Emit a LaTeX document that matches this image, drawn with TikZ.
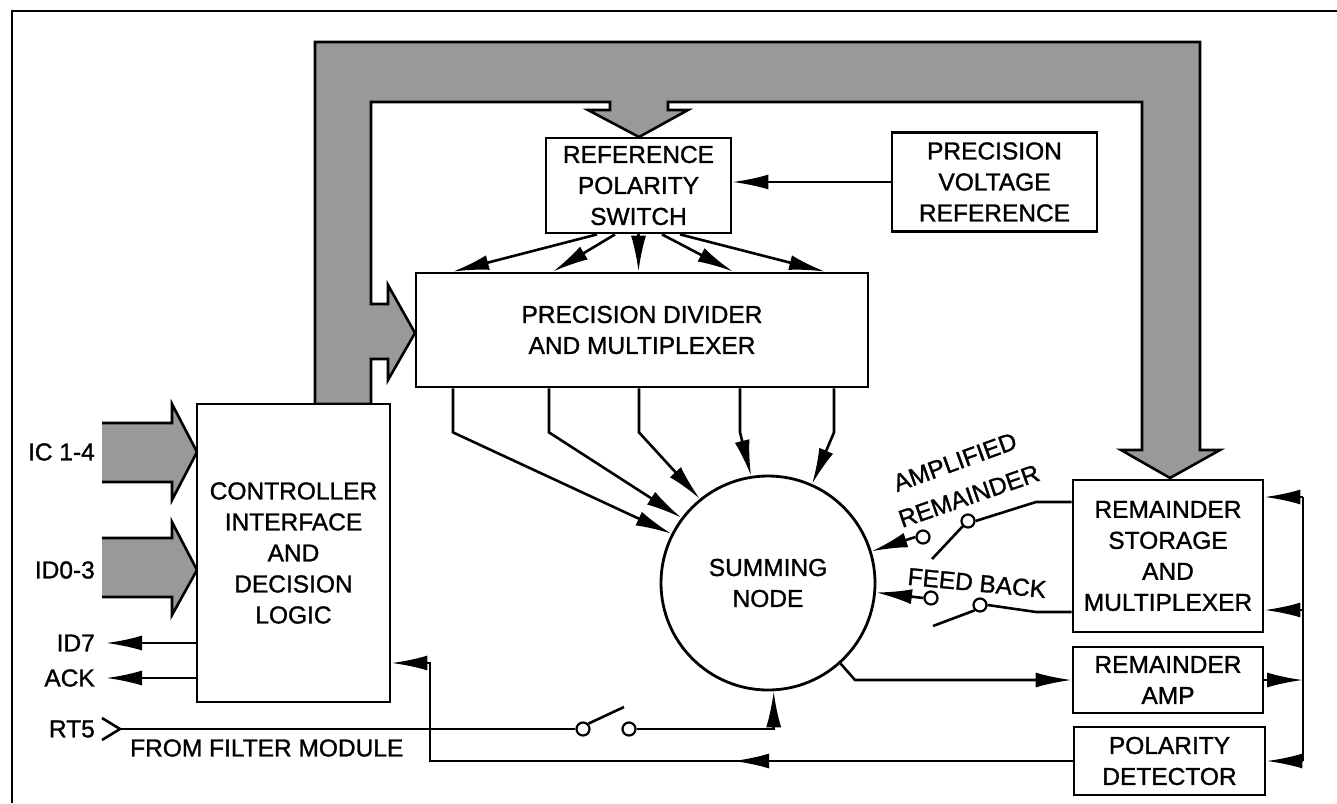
\documentclass[tikz,border=0pt]{standalone}
\usepackage{fontspec}
\setmainfont{Liberation Sans}[FakeBold=1.2]
\usetikzlibrary{arrows.meta}
\begin{document}
\begin{tikzpicture}[x=1pt,y=-1pt,
  txt/.style={font=\fontsize{24.5}{31}\selectfont},
  blk/.style={draw,line width=2.8pt,fill=white,inner sep=0pt,align=center,txt},
  lbl/.style={inner sep=0pt,txt},
  conn/.style={line width=2.6pt},
  arr/.style={line width=2.6pt,-{Latex[length=36pt,width=15pt]}},
  contact/.style={circle,draw,fill=white,line width=2.2pt,minimum size=13pt,inner sep=0pt},
  busfill/.style={fill=black!40,draw=black,line width=2.6pt,line join=miter}
]
\useasboundingbox (0,0) rectangle (1337,803);
% frame
\draw[line width=2.4pt] (12,803) -- (12,11) -- (1337,11);

% bus
\filldraw[busfill] (315,404) -- (315,42) -- (1200,42) -- (1200,450) -- (1220,450) -- (1170,478) -- (1121,450) -- (1142,450) -- (1142,102) -- (668,102) -- (668,110) -- (688,110) -- (639,137) -- (588,110) -- (610,110) -- (610,102) -- (371,102) -- (371,304) -- (388,304) -- (388,285) -- (415,333) -- (388,380) -- (388,359) -- (371,359) -- (371,404) -- cycle;

% input buses
\fill[black!40] (102,423) -- (172,423) -- (172,404) -- (197,452) -- (172,500) -- (172,482) -- (102,482) -- cycle;
\draw[conn,line join=miter] (102,423) -- (172,423) -- (172,404) -- (197,452) -- (172,500) -- (172,482) -- (102,482);
\fill[black!40] (102,538) -- (172,538) -- (172,522) -- (197,570) -- (172,615) -- (172,597) -- (102,597) -- cycle;
\draw[conn,line join=miter] (102,538) -- (172,538) -- (172,522) -- (197,570) -- (172,615) -- (172,597) -- (102,597);

% blocks
\node[blk,minimum width=185pt,minimum height=95pt] (rps) at (638.5,185.5) {REFERENCE\\POLARITY\\SWITCH};
\node[blk,minimum width=205pt,minimum height=99pt] (pvr) at (994.5,182) {PRECISION\\VOLTAGE\\REFERENCE};
\node[blk,minimum width=452pt,minimum height=114pt] (div) at (642,330) {PRECISION DIVIDER\\AND MULTIPLEXER};
\node[blk,minimum width=193pt,minimum height=298pt] (ctl) at (293.5,553) {CONTROLLER\\INTERFACE\\AND\\DECISION\\LOGIC};
\node[blk,minimum width=190pt,minimum height=152pt] (rs) at (1168,556) {REMAINDER\\STORAGE\\AND\\MULTIPLEXER};
\node[blk,minimum width=190pt,minimum height=66pt] (ra) at (1168,680) {REMAINDER\\AMP};
\node[blk,minimum width=191pt,minimum height=68pt] (pd) at (1169.5,761) {POLARITY\\DETECTOR};
\node[blk,circle,minimum size=214pt] (sum) at (768,583) {SUMMING\\NODE};

% PVR -> RPS
\draw[arr] (pvr.west) -- (rps.east |- pvr.west);

% RPS -> divider
\draw[arr] ([xshift=-41.5pt]rps.south) -- ([xshift=-189pt]div.north);
\draw[arr] ([xshift=-23.5pt]rps.south) -- ([xshift=-89pt]div.north);
\draw[arr] (rps.south) -- (rps.south |- div.north);
\draw[arr] ([xshift=23.5pt]rps.south) -- ([xshift=91pt]div.north);
\draw[arr] ([xshift=41.5pt]rps.south) -- ([xshift=183pt]div.north);

% divider -> summing node
\draw[arr,line join=miter] ([xshift=-189pt]div.south) -- ++(0,44) -- (sum.153);
\draw[arr,line join=miter] ([xshift=-93pt]div.south) -- ++(0,44) -- (sum.143);
\draw[arr,line join=miter] ([xshift=-3pt]div.south) -- ++(0,44) -- (sum.129);
\draw[arr,line join=miter] ([xshift=98pt]div.south) -- ++(0,44) -- (sum.99);
\draw[arr,line join=miter] ([xshift=192pt]div.south) -- ++(0,44) -- (sum.66);

% left labels and signals
\node[lbl,anchor=east] (lic) at (95,452) {IC 1-4};
\node[lbl,anchor=east] (lid) at (95,570) {ID0-3};
\node[lbl,anchor=east] (lid7) at (95,643) {ID7};
\node[lbl,anchor=east] (lack) at (95,678) {ACK};
\node[lbl,anchor=east] (lrt) at (95,729) {RT5};
\node[lbl,anchor=west] (lfm) at (130,748) {FROM FILTER MODULE};
\coordinate (id7) at (106,643);
\coordinate (ack) at (106,678);
\draw[arr] (ctl.west |- id7) -- (id7);
\draw[arr] (ctl.west |- ack) -- (ack);

% RT5 input and switch
\draw[conn,line join=miter] (102,718) -- (120,729) -- (102,740);
\coordinate (rt5) at (120,729);
\node[contact] (c1) at (583,729) {};
\node[contact] (c2) at (629,729) {};
\coordinate (b1) at (624,707);
\draw[conn] (rt5) -- (c1.west);
\draw[conn] (c1.north east) -- (b1);
\draw[arr] (c2.east) -| (sum.-87);

% polarity detector feedback to controller
\coordinate (fbm) at (733,761);
\coordinate (fbc) at (430,761);
\coordinate (fbu) at (430,663);
\draw[arr] (pd.west) -- (fbm);
\draw[arr,line join=miter] ([xshift=-330pt]pd.west) -- (fbc) -- (fbu) -- (ctl.east |- fbu);

% summing node -> remainder amp
\coordinate (rab) at (855,680);
\draw[arr,line join=miter] (sum.-48) -- (rab) -- (ra.west);

% right bus
\coordinate (rb1) at (1303,497);
\coordinate (rb2) at (1303,610);
\coordinate (rb4) at (1303,761);
\draw[conn] (rb1) -- (rb4);
\draw[arr] (rb1) -- (rs.east |- rb1);
\draw[arr] (rb2) -- (rs.east |- rb2);
\draw[arr] (ra.east) -- (ra.east -| rb1);
\draw[arr] (rb4) -- (pd.east |- rb4);

% amplified remainder switch
\coordinate (ar1) at (1036,502);
\node[contact] (ca1) at (968,521) {};
\node[contact] (ca2) at (923,537) {};
\coordinate (ab) at (932,559);
\draw[conn] ([yshift=54pt]rs.west) -- (ar1) -- (ca1.east);
\draw[conn] (ca1.south west) -- (ab);
\draw[arr] (ca2.west) -- (sum.17);

% feedback switch
\coordinate (fr1) at (1036,612);
\node[contact] (cf1) at (980,605) {};
\node[contact] (cf2) at (931,598) {};
\coordinate (fbb) at (933,626);
\draw[conn] ([yshift=-56pt]rs.west) -- (fr1) -- (cf1.east);
\draw[conn] (cf1.south west) -- (fbb);
\draw[arr] (cf2.west) -- (sum.-5);

% rotated labels
\node[lbl,rotate=20] (lamp) at (955,462) {AMPLIFIED};
\node[lbl,rotate=19] (lrem) at (969,496) {REMAINDER};
\node[lbl,rotate=-5.5] (lfb) at (977,583) {FEED BACK};
\end{tikzpicture}
\end{document}
